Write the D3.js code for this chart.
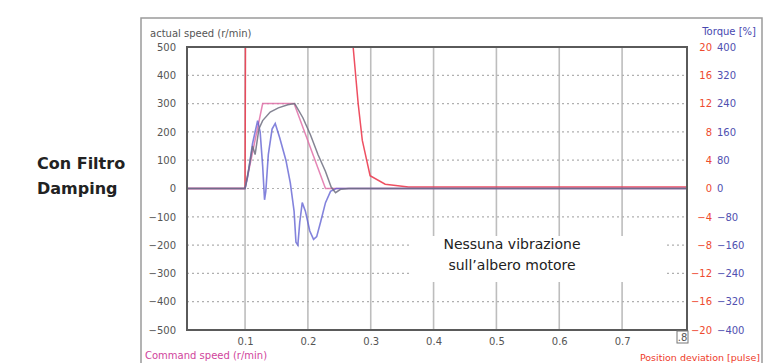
<!DOCTYPE html>
<html><head><meta charset="utf-8">
<script src="https://cdn.jsdelivr.net/npm/d3@7"></script>
<style>body{margin:0;background:#fff}svg{display:block}text{font-family:"DejaVu Sans",Verdana,sans-serif}</style>
</head><body>
<svg id="c" width="765" height="363"></svg>
<script>
// ---- data ----
const xTicks = [0.1,0.2,0.3,0.4,0.5,0.6,0.7,0.8];
const speedTicks = [500,400,300,200,100,0,-100,-200,-300,-400,-500];
const posTicks = [20,16,12,8,4,0,-4,-8,-12,-16,-20];
const torqueTicks = [400,320,240,160,80,0,-80,-160,-240,-320,-400];
// command speed (r/min)
const commandTime  = [0.0076,0.100,0.128,0.178,0.228,0.8033];
const commandSpeed = [0,0,300,300,0,0];
// actual speed (r/min)
const actualTime  = [0.0076,0.100,0.106,0.112,0.116,0.122,0.128,0.140,0.153,0.168,0.179,0.192,0.204,0.216,0.228,0.237,0.244,0.252,0.265,0.8033];
const actualSpeed = [0,0,70,150,120,210,240,270,285,296,300,250,190,120,60,5,-15,-3,0,0];
// torque (%)
const torqueTime = [0.0076,0.100,0.104,0.112,0.120,0.124,0.128,0.131,0.133,0.137,0.143,0.148,0.155,0.165,0.172,0.178,0.181,0.184,0.187,0.191,0.196,0.203,0.209,0.214,0.220,0.228,0.236,0.245,0.8033];
const torque     = [0,0,32,128,192,160,64,-32,-8,96,168,184,144,80,16,-64,-152,-160,-96,-40,-64,-120,-144,-136,-96,-40,-8,0,0];
// position deviation (pulse)
const posTime = [0.0076,0.099,0.1,0.101,0.270,0.272,0.280,0.2866,0.299,0.323,0.36,0.8033];
const posDev  = [0,0,0.3,30,30,20,12,6.8,1.8,0.6,0.2,0.2];

// ---- layout ----
const svg = d3.select("#c");
const L=187,R=687,T=47,B=330;
const x = d3.scaleLinear().domain([0.0076,0.8033]).range([L,R]);
const ySpeed = d3.scaleLinear().domain([-500,500]).range([B,T]);
const yPos = d3.scaleLinear().domain([-20,20]).range([B,T]);
const yTorque = d3.scaleLinear().domain([-400,400]).range([B,T]);
const minus = d=>d<0?"\u2212"+Math.abs(d):d;

// outer frame
svg.append("rect").attr("x",141).attr("y",18).attr("width",621).attr("height",360)
  .attr("fill","none").attr("stroke","#9a9a9a").attr("stroke-width",1.5);

// side label
["Con Filtro","Damping"].forEach((t,i)=>svg.append("text").attr("x",37).attr("y",169+25*i)
  .attr("font-size",16).attr("font-weight","bold").attr("fill","#222")
  .attr("font-family","'Open Sans',sans-serif").text(t));

const defs = svg.append("defs");
defs.append("clipPath").attr("id","clip").append("rect").attr("x",L).attr("y",T).attr("width",R-L).attr("height",B-T);

// grid
const g = svg.append("g");
g.selectAll(".vg").data(xTicks.filter(d=>d<0.8)).enter().append("line")
  .attr("x1",d=>x(d)).attr("x2",d=>x(d)).attr("y1",T).attr("y2",B)
  .attr("stroke","#bdbdbd").attr("stroke-width",1.6);
g.selectAll(".hg").data(speedTicks.filter(d=>Math.abs(d)<500)).enter().append("line")
  .attr("x1",L).attr("x2",R).attr("y1",d=>ySpeed(d)).attr("y2",d=>ySpeed(d))
  .attr("stroke","#b0b0b0").attr("stroke-width",1.2).attr("stroke-dasharray","2,3");

// axes labels (left)
const ya = svg.append("g").attr("transform",`translate(${L},0)`)
  .call(d3.axisLeft(ySpeed).tickValues(speedTicks).tickSize(0).tickPadding(11).tickFormat(minus));
ya.select(".domain").remove();
ya.selectAll("text").attr("font-size",10).attr("fill","#555");

const xa = svg.append("g").attr("transform",`translate(0,${B})`)
  .call(d3.axisBottom(x).tickValues(xTicks.filter(d=>d<0.8)).tickSize(0).tickPadding(8).tickFormat(d3.format(".1f")));
xa.select(".domain").remove();
xa.selectAll("text").attr("font-size",10).attr("fill","#555");

// right axes
const rp = svg.append("g").attr("transform",`translate(${R},0)`)
  .call(d3.axisRight(yPos).tickValues(posTicks).tickSize(0).tickPadding(25).tickFormat(minus));
rp.select(".domain").remove();
rp.selectAll("text").attr("text-anchor","end").attr("font-size",10).attr("fill","#ee4a2e");
const rt = svg.append("g").attr("transform",`translate(${R},0)`)
  .call(d3.axisRight(yTorque).tickValues(torqueTicks).tickSize(0).tickPadding(30).tickFormat(minus));
rt.select(".domain").remove();
rt.selectAll("text").attr("font-size",10).attr("fill","#5050b0");

// titles
svg.append("text").attr("x",150).attr("y",37).attr("font-size",10).attr("fill","#555").text("actual speed (r/min)");
svg.append("text").attr("x",756).attr("y",35).attr("text-anchor","end").attr("font-size",10).attr("fill","#4848b0").text("Torque [%]");
svg.append("text").attr("x",145).attr("y",359).attr("font-size",10).attr("fill","#d0449c").text("Command speed (r/min)");
svg.append("text").attr("x",760).attr("y",361).attr("text-anchor","end").attr("font-size",9.5).attr("fill","#ee3a2a").text("Position deviation [pulse]");

// lines
const data = (t,v)=>t.map((d,i)=>[d,v[i]]);
const lg = svg.append("g").attr("clip-path","url(#clip)");
const line = yS => d3.line().x(d=>x(d[0])).y(d=>yS(d[1]));
lg.append("path").datum(data(posTime,posDev)).attr("d",line(yPos))
  .attr("fill","none").attr("stroke","#ec3c50").attr("stroke-width",1.5).attr("stroke-opacity",0.9);
lg.append("path").datum(data(commandTime,commandSpeed)).attr("d",line(ySpeed))
  .attr("fill","none").attr("stroke","#e070a8").attr("stroke-width",1.5).attr("stroke-opacity",0.85);
lg.append("path").datum(data(torqueTime,torque)).attr("d",line(yTorque))
  .attr("fill","none").attr("stroke","#5a5ad0").attr("stroke-width",1.6).attr("stroke-opacity",0.75);
lg.append("path").datum(data(actualTime,actualSpeed)).attr("d",line(ySpeed))
  .attr("fill","none").attr("stroke","#6e6e80").attr("stroke-width",1.5).attr("stroke-opacity",0.85);

// plot frame
svg.append("rect").attr("x",L).attr("y",T).attr("width",R-L).attr("height",B-T)
  .attr("fill","none").attr("stroke","#5a5a5a").attr("stroke-width",2);

// ".8" clipped label in box
svg.append("rect").attr("x",677).attr("y",331).attr("width",11).attr("height",12).attr("fill","#fff").attr("stroke","#777");
svg.append("text").attr("x",682.5).attr("y",341).attr("text-anchor","middle").attr("font-size",10).attr("fill","#555").text(".8");

// annotation
svg.append("rect").attr("x",410).attr("y",236).attr("width",255).attr("height",46).attr("fill","#fff");
svg.append("text").attr("x",512).attr("y",249).attr("text-anchor","middle").attr("font-size",14)
  .attr("font-family","'Liberation Sans',Arial,sans-serif").attr("fill","#222").text("Nessuna vibrazione");
svg.append("text").attr("x",512).attr("y",270).attr("text-anchor","middle").attr("font-size",14)
  .attr("font-family","'Liberation Sans',Arial,sans-serif").attr("fill","#222").text("sull\u2019albero motore");
</script>
</body></html>
